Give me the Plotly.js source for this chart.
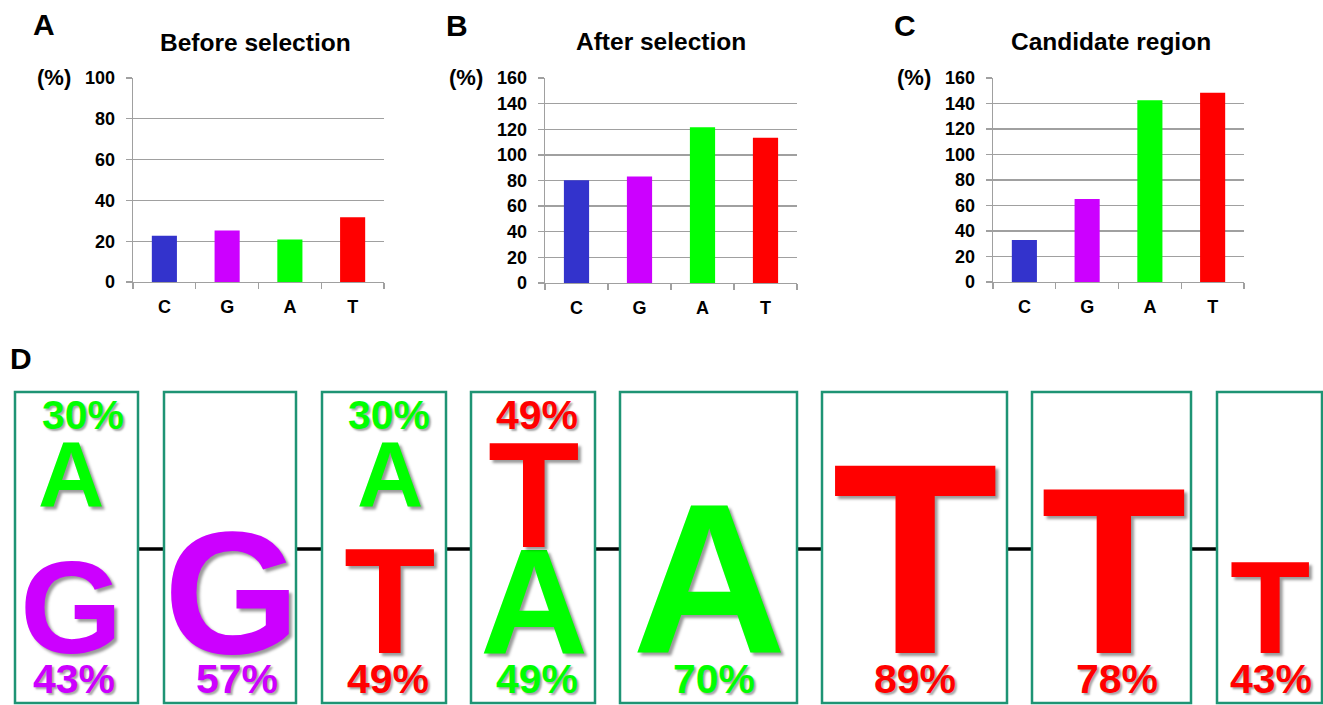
<!DOCTYPE html>
<html>
<head>
<meta charset="utf-8">
<script src="https://cdn.plot.ly/plotly-3.0.1.min.js"></script>
<style>
  html, body { margin: 0; padding: 0; background: #fff; }
  #chart { width: 1323px; height: 705px; }
</style>
</head>
<body>
<div id="chart"></div>
<script>
// ---------- DATA ----------
const categories = ['C', 'G', 'A', 'T'];
const beforeSelection = [22.7, 25.3, 20.8, 31.7];
const afterSelection = [80.1, 83.2, 121.5, 113.4];
const candidateRegion = [32.9, 65.1, 142.5, 148.5];
const barColors = ['#3333cc', '#cc00ff', '#00ff00', '#ff0000'];

const panelTitles = ['Before selection', 'After selection', 'Candidate region'];
const panelLetters = ['A', 'B', 'C', 'D'];
const yUnit = '(%)';

// Panel D: consensus logo
const logoTopLetters = ['A', null, 'A', 'T', null, null, null, null];
const logoTopPct = [30, null, 30, 49, null, null, null, null];
const logoBottomLetters = ['G', 'G', 'T', 'A', 'A', 'T', 'T', 'T'];
const logoBottomPct = [43, 57, 49, 49, 70, 89, 78, 43];
const nucleotideColors = { C: '#3333cc', G: '#cc00ff', A: '#00ff00', T: '#ff0000' };

// ---------- LAYOUT CONSTANTS (pixels) ----------
const W = 1323, H = 705;
const px = v => v / W;
const py = v => 1 - v / H;
const FONT = 'Arial, "Liberation Sans", Helvetica, sans-serif';

const boxLeft = [15, 164, 322, 471, 620, 822, 1032, 1217];
const boxRight = [138, 296, 446, 595, 797, 1007, 1191, 1322];
const letterDx = [-6, 2, 6, 1, 1, 0, 2, 0];
const topLabelDx = [6, 0, 5, 4, 0, 0, 0, 0];
const bottomLabelDx = [-3, 7, 4, 4, 5, 0, 5, 1];
const boxTop = 392, boxBottom = 703, linkY = 549;
const bottomBaseline = 653, topLetterTop = 440;
const pxPerPct = 2.19;        // cap height per percent
const capRatio = 0.716;       // cap height / font size
const bboxMidRatio = 0.3465;  // baseline -> text bbox middle
const topLabelY = 415, bottomLabelY = 679, labelSize = 41;

const gridCol = '#a0a0a0';

function barTrace(vals, xa, ya) {
  return {
    type: 'bar', x: categories, y: vals, xaxis: xa, yaxis: ya,
    width: 0.4, marker: { color: barColors, line: { width: 0 } },
    hoverinfo: 'x+y', showlegend: false
  };
}

const data = [
  barTrace(beforeSelection, 'x', 'y'),
  barTrace(afterSelection, 'x2', 'y2'),
  barTrace(candidateRegion, 'x3', 'y3')
];

function xAxis(d0, d1, anchor) {
  return {
    domain: [px(d0), px(d1)], anchor: anchor, type: 'category',
    showline: true, linecolor: gridCol, linewidth: 1.3,
    ticks: 'outside', tickson: 'boundaries', ticklen: 6, tickcolor: gridCol, tickwidth: 1.3,
    showgrid: false, zeroline: false, fixedrange: true,
    tickfont: { family: FONT, size: 18, color: '#000', weight: 'bold' },
    ticklabelstandoff: 8
  };
}
function yAxis(top, bottom, anchor, maxv) {
  return {
    domain: [py(bottom), py(top)], anchor: anchor, range: [0, maxv], dtick: 20,
    showline: true, linecolor: gridCol, linewidth: 1.3,
    ticks: 'outside', ticklen: 6, tickcolor: gridCol, tickwidth: 1.3,
    showgrid: true, gridcolor: gridCol, gridwidth: 1.3, zeroline: false, fixedrange: true,
    tickfont: { family: FONT, size: 18, color: '#000', weight: 'bold' },
    ticklabelstandoff: 7
  };
}

const annotations = [];
const shapes = [];

function txt(text, x, y, size, color, opts) {
  annotations.push(Object.assign({
    text: text, x: px(x), y: py(y), xref: 'paper', yref: 'paper',
    xanchor: 'center', yanchor: 'middle', showarrow: false,
    font: { family: FONT, size: size, color: color, weight: 'bold' }
  }, opts || {}));
}

// panel letters, titles, units
txt(panelLetters[0], 44, 24, 30, '#000');
txt(panelLetters[1], 457, 25, 30, '#000');
txt(panelLetters[2], 905, 25, 30, '#000');
txt(panelLetters[3], 21, 359, 30, '#000');
txt(panelTitles[0], 255, 43, 24.5, '#000');
txt(panelTitles[1], 661, 42, 24.5, '#000');
txt(panelTitles[2], 1111, 42, 24.5, '#000');
txt(yUnit, 54, 77, 22, '#000');
txt(yUnit, 466, 77, 22, '#000');
txt(yUnit, 914, 77, 22, '#000');

// panel D boxes & links
for (let i = 0; i < boxLeft.length - 1; i++) {
  shapes.push({ type: 'line', xref: 'paper', yref: 'paper',
    x0: px(boxRight[i]), x1: px(boxLeft[i + 1]), y0: py(linkY), y1: py(linkY),
    line: { color: '#000', width: 3.5 }, layer: 'below' });
}
for (let i = 0; i < boxLeft.length; i++) {
  shapes.push({ type: 'rect', xref: 'paper', yref: 'paper',
    x0: px(boxLeft[i]), x1: px(boxRight[i]), y0: py(boxBottom), y1: py(boxTop),
    line: { color: '#1e9474', width: 2.5 }, fillcolor: 'rgba(255,255,255,0)', layer: 'below' });
}

const letterShadow = '3px 3px 3px rgba(0,0,0,0.4)';
const labelShadow = '2px 2px 2px rgba(0,0,0,0.35)';
for (let i = 0; i < logoBottomLetters.length; i++) {
  const cx = (boxLeft[i] + boxRight[i]) / 2;
  // bottom letter
  const bl = logoBottomLetters[i];
  const bcap = logoBottomPct[i] * pxPerPct;
  const bsize = bcap / capRatio;
  txt(bl, cx + letterDx[i], bottomBaseline - bboxMidRatio * bsize, bsize, nucleotideColors[bl],
      { font: { family: FONT, size: bsize, color: nucleotideColors[bl], weight: 'bold', shadow: letterShadow } });
  txt(logoBottomPct[i] + '%', cx + bottomLabelDx[i], bottomLabelY, labelSize, nucleotideColors[bl],
      { font: { family: FONT, size: labelSize, color: nucleotideColors[bl], weight: 'bold', shadow: labelShadow } });
  // top letter
  const tl = logoTopLetters[i];
  if (tl) {
    const tcap = logoTopPct[i] * pxPerPct;
    const tsize = tcap / capRatio;
    const baseline = topLetterTop + tcap;
    txt(tl, cx + letterDx[i], baseline - bboxMidRatio * tsize, tsize, nucleotideColors[tl],
        { font: { family: FONT, size: tsize, color: nucleotideColors[tl], weight: 'bold', shadow: letterShadow } });
    txt(logoTopPct[i] + '%', cx + topLabelDx[i], topLabelY, labelSize, nucleotideColors[tl],
        { font: { family: FONT, size: labelSize, color: nucleotideColors[tl], weight: 'bold', shadow: labelShadow } });
  }
}

const layout = {
  width: W, height: H,
  margin: { l: 0, r: 0, t: 0, b: 0, pad: 0 },
  paper_bgcolor: '#fff', plot_bgcolor: 'rgba(0,0,0,0)',
  showlegend: false, bargap: 0.6,
  xaxis: xAxis(133, 384, 'y'),
  yaxis: yAxis(78, 282, 'x', 100),
  xaxis2: xAxis(545, 797, 'y2'),
  yaxis2: yAxis(78, 283, 'x2', 160),
  xaxis3: xAxis(993, 1244, 'y3'),
  yaxis3: yAxis(78, 282, 'x3', 160),
  annotations: annotations,
  shapes: shapes
};

Plotly.newPlot('chart', data, layout, { displayModeBar: false, staticPlot: true });
</script>
</body>
</html>
